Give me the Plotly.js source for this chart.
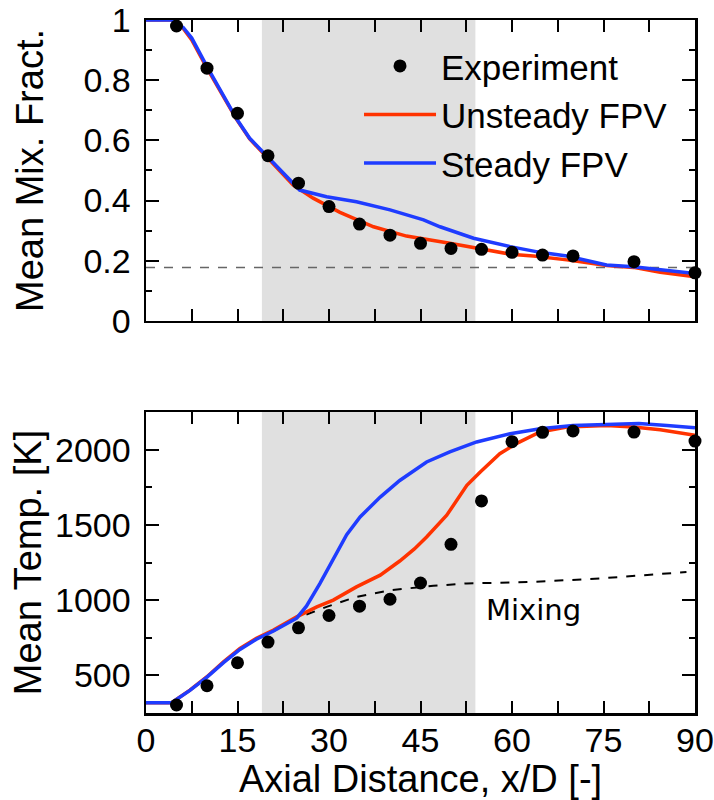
<!DOCTYPE html>
<html>
<head>
<meta charset="utf-8">
<script src="https://cdn.plot.ly/plotly-3.0.1.min.js"></script>
<style>html,body{margin:0;padding:0;background:#fff;}#chart{width:714px;height:800px;}</style>
</head>
<body>
<div id="chart"></div>
<script>
// ---- Data ----
const shadeRange = [19, 54];

// Top panel: mean mixture fraction
const xExpTop = [5,10,15,20,25,30,35,40,45,50,55,60,65,70,80,90];
const yExpTop = [0.98,0.84,0.69,0.549,0.458,0.38,0.322,0.285,0.258,0.241,0.238,0.228,0.219,0.216,0.197,0.160];

const xUnsTop = [0,4.2,6.1,7.5,10,12.7,14.9,17,19.8,22.5,24.1,27.4,31.8,37.3,42.7,49.8,54.8,59.7,63.5,69,75.5,79.9,84.3,90];
const yUnsTop = [1,1,0.972,0.934,0.84,0.745,0.668,0.605,0.546,0.485,0.452,0.408,0.361,0.313,0.282,0.258,0.241,0.222,0.216,0.203,0.184,0.178,0.162,0.147];

const xStdTop = [0,4.2,6.1,7.5,10,12.7,14.9,17,19.8,22.5,24.1,25.2,29.6,34.5,40,45.5,48.2,53.7,59.7,64.6,69,75.5,79.9,85.4,90];
const yStdTop = [1,1,0.975,0.94,0.845,0.75,0.67,0.607,0.548,0.488,0.455,0.435,0.413,0.396,0.369,0.336,0.313,0.275,0.247,0.228,0.216,0.186,0.180,0.169,0.158];

const xStoich = [0, 90];
const yStoich = [0.178, 0.178];

// Bottom panel: mean temperature [K]
const xExpBot = [5,10,15,20,25,30,35,40,45,50,55,60,65,70,80,90];
const yExpBot = [303,431,584,721,816,898,960,1006,1114,1371,1659,2053,2115,2124,2117,2057];

const xUnsBot = [0,4.2,7.2,10,12.7,15.4,18.1,20.9,24.7,28,30.7,34.5,38.4,41.6,44,46,49.3,52.6,54.8,58,60.7,64.6,69,75.5,79.9,84.3,90];
const yUnsBot = [318,318,402,491,590,679,746,801,889,955,1000,1088,1166,1260,1340,1420,1564,1763,1851,1973,2040,2117,2150,2161,2150,2132,2095];

const xStdBot = [0,4.2,7.2,10,12.7,15.4,18.1,20.9,24.7,26.3,28.5,30.7,32.9,35.1,38.4,41.6,46,49.8,54.2,59.7,64.6,70,75.5,80.8,85.4,90];
const yStdBot = [318,318,400,488,585,672,740,795,880,960,1110,1275,1435,1553,1685,1795,1918,1985,2051,2106,2139,2161,2168,2173,2161,2146];

const xMixBot = [4.2,7.2,10,12.7,15.4,18.1,20.9,24.7,29.6,34.5,40,47.1,52.6,63.5,74.4,82.6,88.6];
const yMixBot = [318,400,488,585,672,740,795,880,955,1022,1066,1095,1111,1121,1144,1166,1187];

// ---- Styles ----
const RED = '#ff3300';
const BLUE = '#1f3cff';
const FONT = 'Liberation Sans, Arial, sans-serif';
const TICK = 34, TITLE = 38;

const traces = [
  {x: xStoich, y: yStoich, xaxis:'x2', yaxis:'y2', mode:'lines', showlegend:false,
   line:{color:'#666', width:1.5, dash:'dash'}, hoverinfo:'skip'},
  {x: xUnsTop, y: yUnsTop, xaxis:'x2', yaxis:'y2', mode:'lines', name:'Unsteady FPV',
   line:{color:RED, width:3.5}, legendrank:2},
  {x: xStdTop, y: yStdTop, xaxis:'x2', yaxis:'y2', mode:'lines', name:'Steady FPV',
   line:{color:BLUE, width:3.5}, legendrank:3},
  {x: xExpTop, y: yExpTop, xaxis:'x2', yaxis:'y2', mode:'markers', name:'Experiment',
   marker:{color:'#000', size:13}, cliponaxis:false, legendrank:1},

  {x: xMixBot, y: yMixBot, xaxis:'x', yaxis:'y', mode:'lines', showlegend:false,
   line:{color:'#000', width:2, dash:'dash'}},
  {x: xUnsBot, y: yUnsBot, xaxis:'x', yaxis:'y', mode:'lines', showlegend:false,
   line:{color:RED, width:3.5}},
  {x: xStdBot, y: yStdBot, xaxis:'x', yaxis:'y', mode:'lines', showlegend:false,
   line:{color:BLUE, width:3.5}},
  {x: xExpBot, y: yExpBot, xaxis:'x', yaxis:'y', mode:'markers', showlegend:false,
   marker:{color:'#000', size:13}, cliponaxis:false}
];

const xCommon = {
  range:[0,90], dtick:7.5, tick0:0, ticklabelstep:2, ticks:'inside', ticklen:12, tickwidth:2,
  tickcolor:'#000', showline:true, linecolor:'#000', linewidth:2.5, mirror:'ticks',
  showgrid:false, zeroline:false, tickfont:{family:FONT, size:TICK, color:'#000'},
  ticklabeloverflow:'allow', ticklabelstandoff:-4
};
const yCommon = {
  ticks:'inside', ticklen:13, tickwidth:2, tickcolor:'#000', showline:true, linecolor:'#000',
  linewidth:2.5, mirror:'ticks', showgrid:false, zeroline:false,
  tickfont:{family:FONT, size:TICK, color:'#000'}, ticklabelstandoff:6, ticklabeloverflow:'allow'
};

const layout = {
  width:714, height:800,
  margin:{l:146, r:19, t:20, b:87},
  paper_bgcolor:'#fff', plot_bgcolor:'#fff',
  font:{family:FONT, color:'#000'},
  showlegend:true,
  legend:{x:0.388, y:0.976, xanchor:'left', yanchor:'top', bgcolor:'rgba(0,0,0,0)',
          font:{family:FONT, size:35, color:'#000'}, itemwidth:72, tracegroupgap:0},
  xaxis: Object.assign({}, xCommon, {anchor:'y', domain:[0,1],
          title:{text:'Axial Distance, x/D [-]', font:{family:FONT, size:TITLE, color:'#000'}, standoff:6}}),
  xaxis2: Object.assign({}, xCommon, {anchor:'y2', domain:[0,1], showticklabels:false}),
  yaxis: Object.assign({}, yCommon, {anchor:'x', domain:[0,0.4343], range:[250,2250],
          dtick:500, tick0:500,
          minor:{dtick:250, tick0:250, ticks:'inside', ticklen:6, tickwidth:2, tickcolor:'#000'},
          title:{text:'Mean Temp. [K]', font:{family:FONT, size:TITLE, color:'#000'}, standoff:2}}),
  yaxis2: Object.assign({}, yCommon, {anchor:'x2', domain:[0.5657,1], range:[0,1],
          dtick:0.2, tick0:0,
          minor:{dtick:0.1, tick0:0, ticks:'inside', ticklen:6, tickwidth:2, tickcolor:'#000'},
          title:{text:'Mean Mix. Fract.', font:{family:FONT, size:TITLE, color:'#000'}, standoff:28}}),
  shapes:[
    {type:'rect', xref:'x2', yref:'y2 domain', x0:shadeRange[0], x1:shadeRange[1], y0:0, y1:1,
     fillcolor:'#e0e0e0', line:{width:0}, layer:'below'},
    {type:'rect', xref:'x', yref:'y domain', x0:shadeRange[0], x1:shadeRange[1], y0:0, y1:1,
     fillcolor:'#e0e0e0', line:{width:0}, layer:'below'}
  ],
  annotations:[
    {text:'Mixing', xref:'x', yref:'y', x:63.5, y:1121, yshift:-28, showarrow:false,
     font:{family:'DejaVu Sans', size:29, color:'#000'}}
  ]
};

Plotly.newPlot('chart', traces, layout, {displayModeBar:false, staticPlot:true});
</script>
</body>
</html>
